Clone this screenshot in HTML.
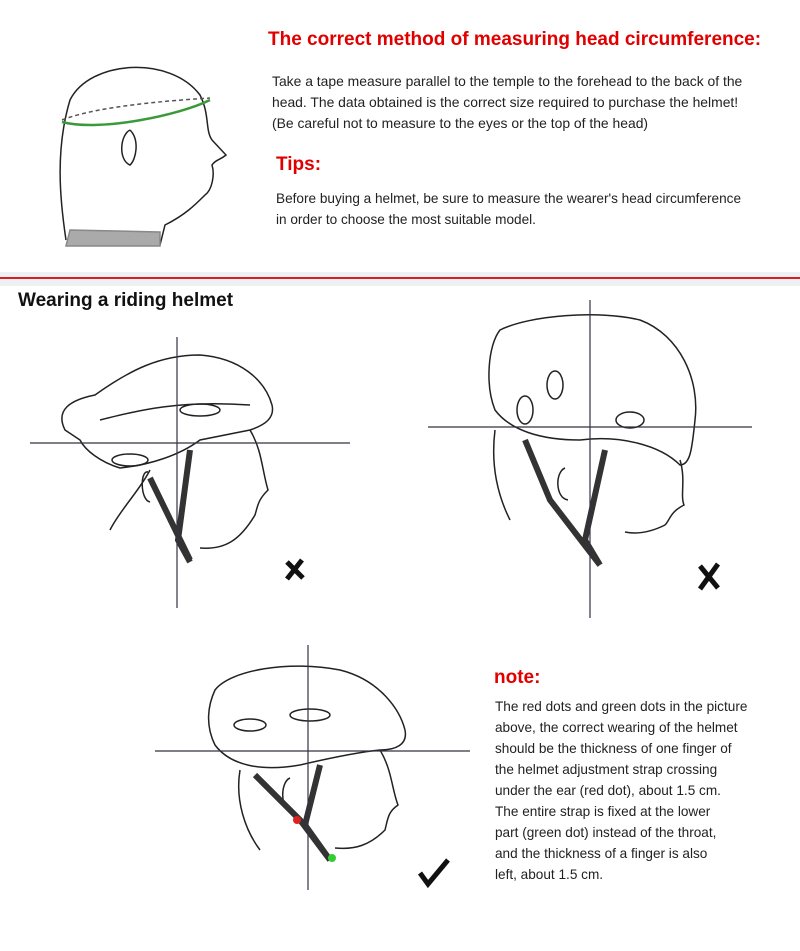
<!DOCTYPE html>
<html><head><meta charset="utf-8"><style>
body{margin:0;width:800px;height:951px;background:#fff;position:relative;overflow:hidden;font-family:"Liberation Sans",sans-serif}
.t{position:absolute;white-space:nowrap}
.red{color:#e00000;font-weight:bold;font-size:19px}
.p{font-size:14px;color:#222;line-height:21px}
</style></head><body>
<div class="t red" style="left:268px;top:29px">The correct method of measuring head circumference:</div>
<div class="t p" style="left:272px;top:71px;font-size:13.9px">Take a tape measure parallel to the temple to the forehead to the back of the<br>head. The data obtained is the correct size required to purchase the helmet!<br>(Be careful not to measure to the eyes or the top of the head)</div>
<div class="t red" style="left:276px;top:154px">Tips:</div>
<div class="t p" style="left:276px;top:188px;font-size:13.6px">Before buying a helmet, be sure to measure the wearer's head circumference<br>in order to choose the most suitable model.</div>
<div style="position:absolute;left:0;top:272px;width:800px;height:14px;background:#eef1f4"></div>
<div style="position:absolute;left:0;top:277px;width:800px;height:2px;background:#d81e1e"></div>
<div class="t" style="left:18px;top:290px;font-size:19px;font-weight:bold;color:#111">Wearing a riding helmet</div>
<div class="t red" style="left:494px;top:667px">note:</div>
<div class="t p" style="left:495px;top:696px;font-size:13.6px">The red dots and green dots in the picture<br>above, the correct wearing of the helmet<br>should be the thickness of one finger of<br>the helmet adjustment strap crossing<br>under the ear (red dot), about 1.5 cm.<br>The entire strap is fixed at the lower<br>part (green dot) instead of the throat,<br>and the thickness of a finger is also<br>left, about 1.5 cm.</div>
<svg width="800" height="951" style="position:absolute;left:0;top:0" fill="none" stroke="#222" stroke-width="1.5">
<path d="M66 240 C60 200 55 150 70 100 C90 60 170 55 200 95 C210 115 205 130 212 140 L226 155 C220 160 215 160 212 165 C215 175 212 190 205 195 C195 205 185 215 165 225 L160 245"/>
<path d="M130 130 C120 135 118 160 130 165 C136 160 140 140 130 130"/>
<path d="M62 120 C100 105 180 100 210 98" stroke="#555" stroke-dasharray="4 3"/>
<path d="M62 122 C100 132 180 115 210 100" stroke="#3a9a3a" stroke-width="2.5"/>
<path d="M70 230 L160 232 L160 246 L66 246 Z" fill="#aaa" stroke="#888"/>
<!-- fig1 -->
<path d="M65 430 C55 410 70 400 95 395 C130 370 160 355 200 355 C240 358 265 380 272 405 C275 418 265 425 250 430 L200 440 C180 455 150 465 120 468 C100 462 85 450 80 440 Z"/>
<path d="M100 420 C140 410 180 400 250 405"/><ellipse cx="200" cy="410" rx="20" ry="6"/><ellipse cx="130" cy="460" rx="18" ry="6"/>
<path d="M250 430 C262 450 262 470 268 490 C258 500 258 505 255 515 C240 540 225 550 200 548 M150 470 C140 490 120 510 110 530 M148 472 C140 470 140 500 150 502"/>
<path d="M150 478 L190 560 M190 450 L178 540 L190 562" stroke="#333" stroke-width="6"/>
<line x1="177" y1="337" x2="177" y2="608" stroke="#334" stroke-width="1.2"/>
<line x1="30" y1="443" x2="350" y2="443" stroke="#334" stroke-width="1.2"/>
<!-- fig2 -->
<path d="M500 330 C530 315 600 310 640 320 C680 335 700 380 695 420 C692 450 690 465 680 465 C660 445 620 435 580 440 C540 440 510 430 495 410 C485 385 488 345 500 330 Z"/>
<ellipse cx="555" cy="385" rx="8" ry="14"/><ellipse cx="630" cy="420" rx="14" ry="8"/><ellipse cx="525" cy="410" rx="8" ry="14"/>
<path d="M680 460 C686 480 680 495 684 505 C670 512 670 520 665 525 C655 530 640 535 625 532 M495 430 C490 470 500 500 510 520 M565 468 C555 472 555 498 568 500"/>
<path d="M525 440 L550 500 L600 565 M605 450 L585 540 L600 565" stroke="#333" stroke-width="6"/>
<line x1="590" y1="300" x2="590" y2="618" stroke="#334" stroke-width="1.2"/>
<line x1="428" y1="427" x2="752" y2="427" stroke="#334" stroke-width="1.2"/>
<!-- fig3 -->
<path d="M215 690 C230 670 290 660 340 670 C380 680 400 710 405 730 C408 745 395 750 380 750 C360 752 330 758 300 765 C260 772 230 765 215 745 C205 725 208 705 215 690 Z"/>
<ellipse cx="310" cy="715" rx="20" ry="6"/><ellipse cx="250" cy="725" rx="16" ry="6"/>
<path d="M380 750 C392 770 392 790 398 805 C388 812 388 818 385 830 C370 845 355 850 335 848 M240 770 C235 800 245 830 260 850 M290 778 C280 782 280 810 292 812"/>
<path d="M255 775 L300 820 L330 860 M320 765 L305 825 L330 860" stroke="#333" stroke-width="6"/>
<circle cx="297" cy="820" r="4" fill="#d22" stroke="none"/><circle cx="332" cy="858" r="4" fill="#3c3" stroke="none"/>
<line x1="308" y1="645" x2="308" y2="890" stroke="#334" stroke-width="1.2"/>
<line x1="155" y1="751" x2="470" y2="751" stroke="#334" stroke-width="1.2"/>
<path d="M287 562 L303 578 M302 560 L287 579" stroke="#111" stroke-width="5"/>
<path d="M700 566 L718 588 M718 564 L700 589" stroke="#111" stroke-width="5"/>
<path d="M420 873 L428 884 L448 860" stroke="#111" stroke-width="5"/>
</svg>
</body></html>
